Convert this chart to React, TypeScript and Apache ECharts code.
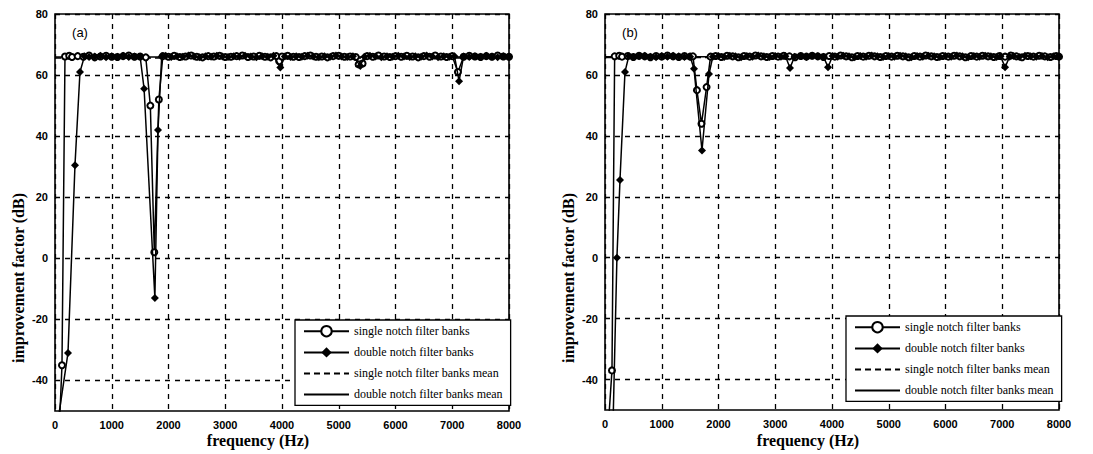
import React, { useEffect, useRef } from "react";
import * as echarts from "echarts";

// ---------- data (frequency Hz, improvement factor dB) ----------
const seriesNames = [
  "single notch filter banks",
  "double notch filter banks",
  "single notch filter banks mean",
  "double notch filter banks mean",
];

// panel (a)
const singleA: [number, number][] = [
  [75, -56], [123, -35], [176, 66.1], [250, 66.3], [300, 65.9], [400, 66.2], [500, 66], [600, 66.4],
  [700, 65.8], [800, 66.1], [900, 66.3], [1000, 66], [1100, 65.9], [1200, 66.2], [1300, 66.4], [1400, 66],
  [1500, 66.1], [1600, 65.8], [1680, 50], [1750, 2], [1830, 52], [1900, 66.2], [2000, 66], [2100, 66.3],
  [2200, 65.9], [2300, 66.1], [2400, 66.4], [2500, 66], [2600, 65.8], [2700, 66.2], [2800, 66.1], [2900, 66.3],
  [3000, 65.9], [3100, 66], [3200, 66.2], [3300, 66.4], [3400, 65.9], [3500, 66.1], [3600, 66.3], [3700, 66],
  [3800, 65.8], [3900, 66.2], [3950, 64.5], [4000, 66.1], [4100, 66.3], [4200, 66], [4300, 65.9], [4400, 66.2],
  [4500, 66.4], [4600, 66], [4700, 66.1], [4800, 65.8], [4900, 66.2], [5000, 66.3], [5100, 66], [5200, 66.1],
  [5300, 65.9], [5350, 63.5], [5420, 63.8], [5500, 66.2], [5600, 66], [5700, 66.4], [5800, 66.1], [5900, 65.9],
  [6000, 66.2], [6100, 66], [6200, 66.3], [6300, 66.1], [6400, 65.8], [6500, 66.2], [6600, 66], [6700, 66.4],
  [6800, 66.1], [6900, 65.9], [7000, 66.2], [7100, 61], [7200, 66], [7300, 66.3], [7400, 66.1], [7500, 65.9],
  [7600, 66.2], [7700, 66], [7800, 66.4], [7900, 66.1], [8000, 66],
];
const doubleA: [number, number][] = [
  [30, -56], [229, -31], [352, 30.5], [440, 61], [520, 66.2], [600, 65.9], [700, 66.1], [800, 66.3],
  [900, 65.8], [1000, 66.2], [1100, 66], [1200, 66.3], [1300, 65.9], [1400, 66.1], [1500, 66], [1570, 55.5],
  [1760, -13], [1815, 42], [1880, 66.1], [1950, 66.3], [2050, 65.9], [2150, 66.2], [2250, 66], [2350, 66.4],
  [2450, 66.1], [2550, 65.8], [2650, 66.2], [2750, 66], [2850, 66.3], [2950, 66.1], [3050, 65.9], [3150, 66.2],
  [3250, 66], [3350, 66.3], [3450, 66.1], [3550, 65.8], [3650, 66.2], [3750, 66], [3850, 66.3], [3970, 62.5],
  [4050, 66.1], [4150, 65.9], [4250, 66.2], [4350, 66], [4450, 66.3], [4550, 66.1], [4650, 65.8], [4750, 66.2],
  [4850, 66], [4950, 66.4], [5050, 66.1], [5150, 65.9], [5250, 66.2], [5380, 63], [5450, 66], [5550, 66.3],
  [5650, 66.1], [5750, 65.8], [5850, 66.2], [5950, 66], [6050, 66.3], [6150, 66.1], [6250, 65.9], [6350, 66.2],
  [6450, 66], [6550, 66.4], [6650, 66.1], [6750, 65.8], [6850, 66.2], [6950, 66], [7040, 66.2], [7120, 58],
  [7200, 66.1], [7300, 65.9], [7400, 66.2], [7500, 66], [7600, 66.3], [7700, 66.1], [7800, 65.8], [7900, 66.2],
  [8000, 66],
];
const singleMeanA: [number, number][] = [[0, 65.6], [8000, 65.6]];
const doubleMeanA: [number, number][] = [[0, 65.9], [8000, 65.9]];

// panel (b)
const singleB: [number, number][] = [
  [55, -56], [123, -37], [170, 66.1], [250, 66.3], [300, 66], [400, 66.2], [500, 65.9], [600, 66.3],
  [700, 66.1], [800, 65.8], [900, 66.2], [1000, 66], [1100, 66.4], [1200, 66.1], [1300, 65.9], [1400, 66.2],
  [1500, 66], [1550, 66.1], [1620, 55], [1700, 44], [1790, 56], [1860, 66], [1950, 66.2], [2050, 65.9],
  [2150, 66.3], [2250, 66.1], [2350, 65.8], [2450, 66.2], [2550, 66], [2650, 66.4], [2750, 66.1], [2850, 65.9],
  [2950, 66.2], [3050, 66], [3150, 66.3], [3250, 66.1], [3350, 65.8], [3450, 66.2], [3550, 66], [3650, 66.3],
  [3750, 66.1], [3850, 65.9], [3950, 66.2], [4050, 66], [4150, 66.4], [4250, 66.1], [4350, 65.8], [4450, 66.2],
  [4550, 66], [4650, 66.3], [4750, 66.1], [4850, 65.9], [4950, 66.2], [5050, 66], [5150, 66.3], [5250, 66.1],
  [5350, 65.8], [5450, 66.2], [5550, 66], [5650, 66.4], [5750, 66.1], [5850, 65.9], [5950, 66.2], [6050, 66],
  [6150, 66.3], [6250, 66.1], [6350, 65.8], [6450, 66.2], [6550, 66], [6650, 66.3], [6750, 66.1], [6850, 65.9],
  [6950, 66.2], [7050, 66], [7150, 66.4], [7250, 66.1], [7350, 65.8], [7450, 66.2], [7550, 66], [7650, 66.3],
  [7750, 66.1], [7850, 65.9], [7950, 66.2], [8000, 66],
];
const doubleB: [number, number][] = [
  [140, -56], [210, 0], [264, 25.5], [352, 61], [420, 66.2], [500, 65.9], [600, 66.1], [700, 66.3],
  [800, 66], [900, 65.8], [1000, 66.2], [1100, 66], [1200, 66.3], [1300, 66.1], [1400, 65.9], [1500, 66],
  [1568, 62], [1709, 35.2], [1833, 60.3], [1900, 66], [2000, 66.2], [2100, 65.9], [2200, 66.3], [2300, 66.1],
  [2400, 65.8], [2500, 66.2], [2600, 66], [2700, 66.4], [2800, 66.1], [2900, 65.9], [3000, 66.2], [3100, 66],
  [3180, 66.1], [3260, 62.3], [3340, 66], [3450, 66.2], [3550, 65.9], [3650, 66.3], [3750, 66.1], [3850, 66],
  [3930, 62.5], [4010, 66.2], [4100, 66], [4200, 66.3], [4300, 66.1], [4400, 65.8], [4500, 66.2], [4600, 66],
  [4700, 66.4], [4800, 66.1], [4900, 65.9], [5000, 66.2], [5100, 66], [5200, 66.3], [5300, 66.1], [5400, 65.8],
  [5500, 66.2], [5600, 66], [5700, 66.3], [5800, 66.1], [5900, 65.9], [6000, 66.2], [6100, 66], [6200, 66.4],
  [6300, 66.1], [6400, 65.8], [6500, 66.2], [6600, 66], [6700, 66.3], [6800, 66.1], [6900, 65.9], [6970, 66.1],
  [7050, 62.5], [7130, 66], [7200, 66.2], [7300, 65.9], [7400, 66.3], [7500, 66.1], [7600, 66], [7700, 66.2],
  [7800, 65.8], [7900, 66.1], [8000, 66],
];
const singleMeanB: [number, number][] = [[0, 65.7], [8000, 65.7]];
const doubleMeanB: [number, number][] = [[0, 66], [8000, 66]];

const panelLabels = ["(a)", "(b)"];
const xName = "frequency (Hz)";
const yName = "improvement factor (dB)";

const W = 1093;
const H = 454;

export default function App() {
  const ref = useRef<HTMLDivElement>(null);
  useEffect(() => {
    document.body.style.margin = "0";
    if (!ref.current) return;
    const chart = echarts.init(ref.current, undefined, { renderer: "svg" });
    const grids = [
      { left: 55, top: 14, width: 454, height: 397 },
      { left: 605, top: 14, width: 454, height: 396 },
    ];
    const tickFont = { color: "#000", fontFamily: "Liberation Sans", fontWeight: "bold" as const, fontSize: 11 };
    const dash = [5, 5];
    const xAxes = grids.map((_, i) => ({
      type: "value",
      gridIndex: i,
      min: 0,
      max: 8000,
      interval: 1000,
      axisLine: { show: false },
      axisTick: { show: false },
      axisLabel: { ...tickFont, margin: 8, formatter: (v: number) => String(v) },
      splitLine: { show: true, lineStyle: { color: "#000", type: dash, width: 1.3 } },
    }));
    const yAxes = grids.map((_, i) => ({
      type: "value",
      gridIndex: i,
      min: -50,
      max: 80,
      interval: 10,
      axisLine: { show: false },
      axisTick: { show: false },
      axisLabel: { ...tickFont, margin: 7, formatter: (v: number) => (v % 20 === 0 ? String(v) : "") },
      splitLine: { show: true, lineStyle: { color: ["rgba(0,0,0,0)", "#000"], type: dash, width: 1.3 } },
    }));
    const mk = (name: string, data: [number, number][], idx: number, kind: number) => {
      const base: any = {
        name,
        type: "line",
        xAxisIndex: idx,
        yAxisIndex: idx,
        data,
        clip: true,
        lineStyle: { color: "#000", width: 1.5 },
        itemStyle: { color: "#000" },
      };
      if (kind === 0) {
        base.symbol = "emptyCircle";
        base.symbolSize = 6;
        base.itemStyle = { color: "#000", borderColor: "#000", borderWidth: 1.4 };
        base.z = 3;
      } else if (kind === 1) {
        base.symbol = "diamond";
        base.symbolSize = 8;
        base.z = 4;
      } else {
        base.symbol = "circle";
        base.showSymbol = false;
        base.itemStyle = { color: "rgba(0,0,0,0)" };
        base.z = 2;
        if (kind === 2) base.lineStyle = { color: "#000", width: 1.5, type: [6, 4] };
      }
      return base;
    };
    const series = [
      mk(seriesNames[0], singleA, 0, 0),
      mk(seriesNames[1], doubleA, 0, 1),
      mk(seriesNames[2], singleMeanA, 0, 2),
      mk(seriesNames[3], doubleMeanA, 0, 3),
      mk(seriesNames[0], singleB, 1, 0),
      mk(seriesNames[1], doubleB, 1, 1),
      mk(seriesNames[2], singleMeanB, 1, 2),
      mk(seriesNames[3], doubleMeanB, 1, 3),
    ];
    const legendBase = {
      orient: "vertical",
      itemWidth: 45,
      itemHeight: 13,
      itemGap: 9,
      padding: [5, 8, 5, 8],
      backgroundColor: "#fff",
      borderColor: "#000",
      borderWidth: 1.3,
      borderRadius: 0,
      textStyle: { fontFamily: "Liberation Serif", fontSize: 12, color: "#000" },
      data: seriesNames,
      selectedMode: false,
    };
    const axisNameFont = "bold 16px 'Liberation Serif'";
    const graphics: any[] = [];
    grids.forEach((g, i) => {
      graphics.push({
        type: "text",
        x: g.left + 25,
        y: 32,
        style: { text: panelLabels[i], font: "13px 'Liberation Sans'", fill: "#000", textAlign: "center", textVerticalAlign: "middle" },
      });
      graphics.push({
        type: "text",
        x: g.left + 203,
        y: 440,
        style: { text: xName, font: axisNameFont, fill: "#000", textAlign: "center", textVerticalAlign: "middle" },
      });
      graphics.push({
        type: "text",
        x: g.left - 37,
        y: 278,
        rotation: Math.PI / 2,
        style: { text: yName, font: axisNameFont, fill: "#000", textAlign: "center", textVerticalAlign: "middle" },
      });
    });
    chart.setOption({
      animation: false,
      backgroundColor: "#fff",
      grid: grids.map((g) => ({ ...g, show: true, borderColor: "#000", borderWidth: 1.6, backgroundColor: "transparent" })),
      xAxis: xAxes,
      yAxis: yAxes,
      legend: [
        { ...legendBase, left: 295, top: 320 },
        { ...legendBase, left: 846, top: 316 },
      ],
      graphic: graphics,
      series,
    } as any);
    return () => chart.dispose();
  }, []);
  return <div ref={ref} style={{ width: W, height: H }} />;
}
